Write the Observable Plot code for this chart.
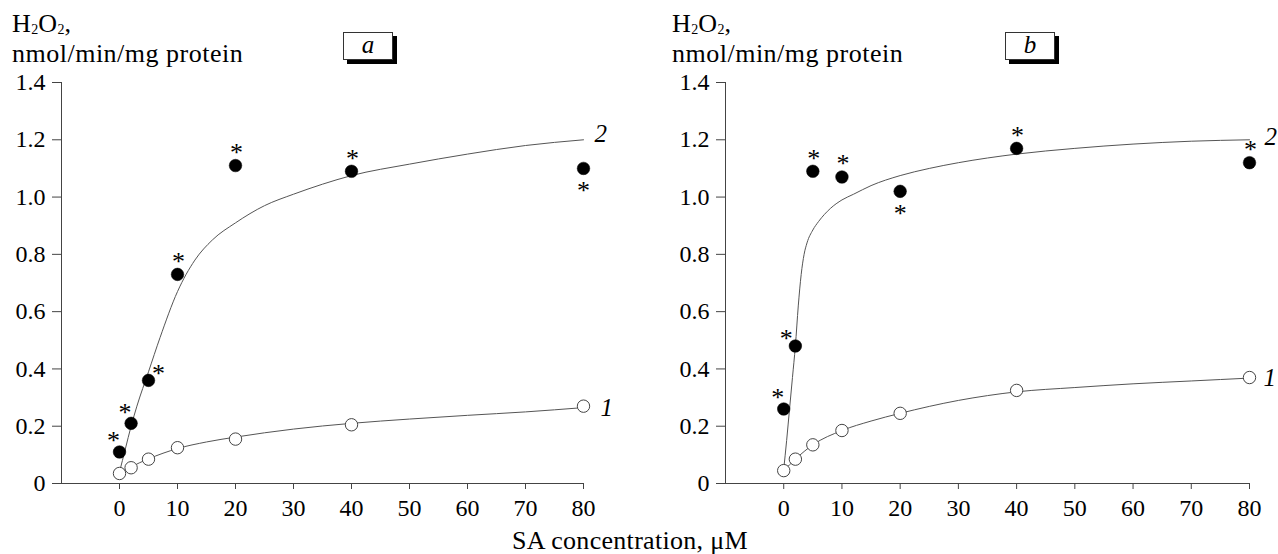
<!DOCTYPE html>
<html>
<head>
<meta charset="utf-8">
<script src="https://cdn.jsdelivr.net/npm/d3@7"></script>
<script src="https://cdn.jsdelivr.net/npm/@observablehq/plot@0.6"></script>
<style>
  html, body { margin: 0; padding: 0; background: white; }
  #root { position: relative; width: 1278px; height: 554px; overflow: hidden;
          font-family: "Liberation Serif", "Times New Roman", serif; color: black; }
  .abs { position: absolute; }
  .title { font-size: 26px; line-height: 24px; letter-spacing: 0.5px; white-space: nowrap; }
  .title .sub { font-size: 14px; vertical-align: -2px; letter-spacing: 0; }
  .box { width: 48px; height: 26px; border: 1px solid #333; background: white;
         box-shadow: 4px 4px 0 #000; font-style: italic; font-size: 25px; line-height: 24px; text-align: center; }
  .xlabel { font-size: 26px; line-height: 25px; letter-spacing: 0.3px; white-space: nowrap; }
</style>
</head>
<body>
<div id="root">
  <div id="pa" class="abs" style="left:0;top:0"></div>
  <div id="pb" class="abs" style="left:640px;top:0"></div>
</div>
<script>
// ---- data ----
const concentrations = [0, 2, 5, 10, 20, 40, 80];
const xTicks = [0, 10, 20, 30, 40, 50, 60, 70, 80];
const yTicks = [0, 0.2, 0.4, 0.6, 0.8, 1.0, 1.2, 1.4];

// panel a
const a1 = [0.035, 0.055, 0.085, 0.125, 0.155, 0.205, 0.27];
const a2 = [0.11, 0.21, 0.36, 0.73, 1.11, 1.09, 1.10];
const a2Stars = ["nw", "nw", "ne", "n", "n", "n", "s"];
const a1CurveX = [0, 2, 5, 10, 15, 20, 30, 40, 50, 60, 70, 80];
const a1CurveY = [0.035, 0.058, 0.086, 0.122, 0.145, 0.162, 0.19, 0.21, 0.225, 0.238, 0.25, 0.265];
const a2CurveX = [0, 1, 2, 3, 5, 7, 10, 13, 16, 20, 25, 30, 35, 40, 50, 60, 70, 80];
const a2CurveY = [0.04, 0.12, 0.20, 0.27, 0.39, 0.51, 0.67, 0.78, 0.85, 0.91, 0.97, 1.01, 1.045, 1.075, 1.115, 1.15, 1.18, 1.20];

// panel b
const b1 = [0.045, 0.085, 0.135, 0.185, 0.245, 0.325, 0.37];
const b2 = [0.26, 0.48, 1.09, 1.07, 1.02, 1.17, 1.12];
const b2Stars = ["nw", "w", "n", "n", "s", "n", "n"];
const b1CurveX = [0, 2, 5, 10, 15, 20, 30, 40, 50, 60, 70, 80];
const b1CurveY = [0.045, 0.085, 0.135, 0.185, 0.218, 0.245, 0.29, 0.32, 0.335, 0.348, 0.358, 0.368];
const b2CurveX = [0, 0.5, 1, 1.5, 2, 2.5, 3, 3.5, 4, 5, 6, 8, 10, 12, 15, 20, 25, 30, 40, 50, 60, 70, 80];
const b2CurveY = [0.05, 0.15, 0.26, 0.37, 0.48, 0.62, 0.73, 0.80, 0.84, 0.885, 0.915, 0.96, 0.99, 1.01, 1.04, 1.075, 1.10, 1.12, 1.15, 1.17, 1.185, 1.195, 1.20];

const titleLine2 = "nmol/min/mg protein";
const xAxisLabel = "SA concentration, \u03BCM";
const panelLetters = ["a", "b"];
const curveNames = ["1", "2"];

// ---- drawing ----
const FONT = "'Liberation Serif', 'Times New Roman', serif";
const starOffsets = {n: [1, -17], s: [0, 18], nw: [-6, -15], ne: [10, -11], w: [-9, -11]};
const STAR_SIZE = 26;
const STAR_SHIFT = 0.15 * STAR_SIZE; // asterisk glyph sits above the text middle

function pts(xs, ys, extra) {
  return xs.map((x, i) => Object.assign({x, y: ys[i]}, extra ? {pos: extra[i]} : {}));
}

function panel({s1, s2, stars, c1x, c1y, c2x, c2y, width, marginLeft, marginRight, lab1, lab2}) {
  const open = pts(concentrations, s1);
  const filled = pts(concentrations, s2, stars);
  const curve1 = pts(c1x, c1y);
  const curve2 = pts(c2x, c2y);
  const starMarks = Object.keys(starOffsets).map(k =>
    Plot.text(filled.filter(d => d.pos === k), {
      x: "x", y: "y", text: () => "*",
      dx: starOffsets[k][0], dy: starOffsets[k][1] + STAR_SHIFT,
      fontSize: STAR_SIZE, fontFamily: FONT, fill: "black"
    })
  );
  const end1 = curve1[curve1.length - 1];
  const end2 = curve2[curve2.length - 1];
  return Plot.plot({
    width, height: 554,
    marginLeft, marginRight, marginTop: 82, marginBottom: 71,
    x: {domain: [-10, 80]},
    y: {domain: [0, 1.4]},
    style: {fontFamily: FONT, fontSize: "24px", color: "black", background: "transparent", overflow: "visible"},
    marks: [
      Plot.ruleY([0], {x1: -10, x2: 80, stroke: "#444", strokeWidth: 1}),
      Plot.ruleX([-10], {y1: 0, y2: 1.4, stroke: "#444", strokeWidth: 1}),
      Plot.axisX({ticks: xTicks, tickSize: 6, tickPadding: 9, tickFormat: d => String(d), label: null, stroke: "#444", fill: "black"}),
      Plot.axisY({ticks: yTicks, tickSize: 9, tickPadding: 7, tickFormat: d => d === 0 ? "0" : d.toFixed(1), label: null, stroke: "#444", fill: "black"}),
      Plot.line(curve1, {x: "x", y: "y", curve: "monotone-x", stroke: "#555", strokeWidth: 1}),
      Plot.line(curve2, {x: "x", y: "y", curve: "monotone-x", stroke: "#555", strokeWidth: 1}),
      Plot.dot(open, {x: "x", y: "y", r: 6.2, fill: "white", stroke: "#444", strokeWidth: 1}),
      Plot.dot(filled, {x: "x", y: "y", r: 6.3, fill: "black", stroke: "black", strokeWidth: 0.5}),
      ...starMarks,
      Plot.text([end1], {x: "x", y: "y", text: () => curveNames[0], textAnchor: "start", dx: lab1[0], dy: lab1[1], fontSize: 25, fontStyle: "italic", fontFamily: FONT, fill: "black"}),
      Plot.text([end2], {x: "x", y: "y", text: () => curveNames[1], textAnchor: "start", dx: lab2[0], dy: lab2[1], fontSize: 25, fontStyle: "italic", fontFamily: FONT, fill: "black"})
    ]
  });
}

const svgA = panel({s1: a1, s2: a2, stars: a2Stars, c1x: a1CurveX, c1y: a1CurveY, c2x: a2CurveX, c2y: a2CurveY,
  width: 640, marginLeft: 61, marginRight: 57, lab1: [17, 0], lab2: [11, -6]});
const svgB = panel({s1: b1, s2: b2, stars: b2Stars, c1x: b1CurveX, c1y: b1CurveY, c2x: b2CurveX, c2y: b2CurveY,
  width: 638, marginLeft: 85, marginRight: 29, lab1: [14, 0], lab2: [15, -3]});
document.getElementById("pa").appendChild(svgA);
document.getElementById("pb").appendChild(svgB);

// annotations (HTML, on top)
const root = document.getElementById("root");
function addTitle(left) {
  const d = document.createElement("div");
  d.className = "abs title";
  d.style.left = left + "px";
  d.style.top = "12px";
  d.innerHTML = 'H<span class="sub">2</span>O<span class="sub">2</span>,<br>' + titleLine2;
  root.appendChild(d);
}
function addBox(left, letter) {
  const d = document.createElement("div");
  d.className = "abs box";
  d.style.left = left + "px";
  d.style.top = "32px";
  d.textContent = letter;
  root.appendChild(d);
}
addTitle(12); addTitle(672);
addBox(343, panelLetters[0]); addBox(1005, panelLetters[1]);
const xl = document.createElement("div");
xl.className = "abs xlabel";
xl.style.left = "512px";
xl.style.top = "528px";
xl.textContent = xAxisLabel;
root.appendChild(xl);
</script>
</body>
</html>
